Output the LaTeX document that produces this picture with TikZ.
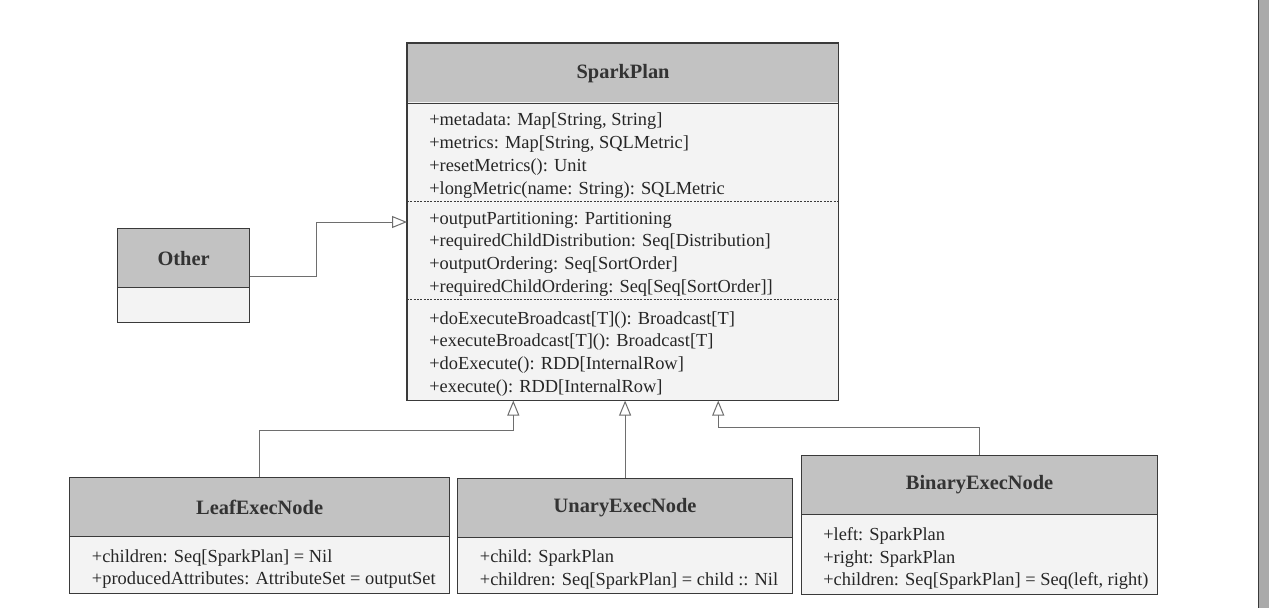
\documentclass[tikz,border=0pt]{standalone}
\usepackage{fontspec}
\setmainfont{Liberation Serif}
\usetikzlibrary{arrows.meta}
\definecolor{hdrgray}{HTML}{C2C2C2}
\definecolor{bodygray}{HTML}{F3F3F3}
\definecolor{edge}{HTML}{3A3A3A}
\definecolor{conn}{HTML}{6E6E6E}
\definecolor{bargray}{HTML}{AAAAAA}
\begin{document}
\begin{tikzpicture}[x=0.75pt,y=-0.75pt,
  hdr/.style={draw=edge, line width=0.9pt, fill=hdrgray, anchor=north west, inner sep=0pt,
    minimum height=44.25pt, font=\fontsize{15.3}{18}\selectfont\bfseries, text=black!80},
  sect/.style={fill=bodygray, anchor=north west, inner sep=0pt},
  bodybox/.style={sect, draw=edge, line width=0.9pt},
  txt/.style={anchor=west, inner sep=0pt, align=left, yshift=-3pt,
    font=\fontsize{13.8}{17.1}\selectfont, text=black!85},
  inh/.style={draw=conn, line width=0.75pt, -{Triangle[open, length=11.25pt, width=9pt]}},
  sepline/.style={draw=edge, line width=0.6pt, dash pattern=on 1.5pt off 1pt},
]
\useasboundingbox (0,0) rectangle (1269,608);
\fill[white] (0,0) rectangle (1269,608);
% right page edge
\fill[bargray] (1259,0) rectangle (1269,608);
\draw[edge, line width=0.9pt] (1258.5,0) -- (1258.5,608);

% SparkPlan
\node[hdr, minimum width=323.25pt] (spH) at (407,43) {SparkPlan};
\node[sect, minimum width=323.25pt, minimum height=74.25pt] (sp1) at (407,102) {};
\node[sect, minimum width=323.25pt, minimum height=73.5pt] (sp2) at (407,201) {};
\node[sect, minimum width=323.25pt, minimum height=75.75pt] (sp3) at (407,299) {};
\draw[edge, line width=0.9pt] (spH.north west) rectangle (sp3.south east);
\draw[edge, line width=0.9pt] (spH.south west) -- (spH.south east);
\draw[sepline] (sp1.south west) -- (sp1.south east);
\draw[sepline] (sp2.south west) -- (sp2.south east);
\node[txt] (sp1t) at ([xshift=16.5pt]sp1.west) {+metadata: Map[String, String]\\+metrics: Map[String, SQLMetric]\\+resetMetrics(): Unit\\+longMetric(name: String): SQLMetric};
\node[txt] (sp2t) at ([xshift=16.5pt]sp2.west) {+outputPartitioning: Partitioning\\+requiredChildDistribution: Seq[Distribution]\\+outputOrdering: Seq[SortOrder]\\+requiredChildOrdering: Seq[Seq[SortOrder]]};
\node[txt] (sp3t) at ([xshift=16.5pt]sp3.west) {+doExecuteBroadcast[T](): Broadcast[T]\\+executeBroadcast[T](): Broadcast[T]\\+doExecute(): RDD[InternalRow]\\+execute(): RDD[InternalRow]};

% Other
\node[hdr, minimum width=99pt] (otH) at (117,228) {Other};
\node[bodybox, minimum width=99pt, minimum height=26.25pt] (otB) at (117,287) {};

% LeafExecNode
\node[hdr, minimum width=285pt] (lfH) at (69,477) {LeafExecNode};
\node[bodybox, minimum width=285pt, minimum height=42.75pt] (lfB) at (69,536) {};
\node[txt] (lfT) at ([xshift=17pt]lfB.west) {+children: Seq[SparkPlan] = Nil\\+producedAttributes: AttributeSet = outputSet};

% UnaryExecNode
\node[hdr, minimum width=251.25pt] (unH) at (457,478) {UnaryExecNode};
\node[bodybox, minimum width=251.25pt, minimum height=42pt] (unB) at (457,537) {};
\node[txt] (unT) at ([xshift=17pt]unB.west) {+child: SparkPlan\\+children: Seq[SparkPlan] = child :: Nil};

% BinaryExecNode
\node[hdr, minimum width=267pt] (bnH) at (801,455) {BinaryExecNode};
\node[bodybox, minimum width=267pt, minimum height=60pt] (bnB) at (801,514) {};
\node[txt] (bnT) at ([xshift=16.5pt]bnB.west) {+left: SparkPlan\\+right: SparkPlan\\+children: Seq[SparkPlan] = Seq(left, right)};

% connectors
\draw[inh] ([yshift=9pt]otH.south east) -- ++(66,0) |- ([yshift=-15.75pt]sp2.north west);
\draw[inh] (lfH.north) -- ++(0,-47) -| ([xshift=-82.1pt]sp3.south);
\draw[inh] (unH.north) -- (unH.north |- sp3.south);
\draw[inh] (bnH.north) -- ++(0,-28) -| ([xshift=71.6pt]sp3.south);
\end{tikzpicture}
\end{document}
